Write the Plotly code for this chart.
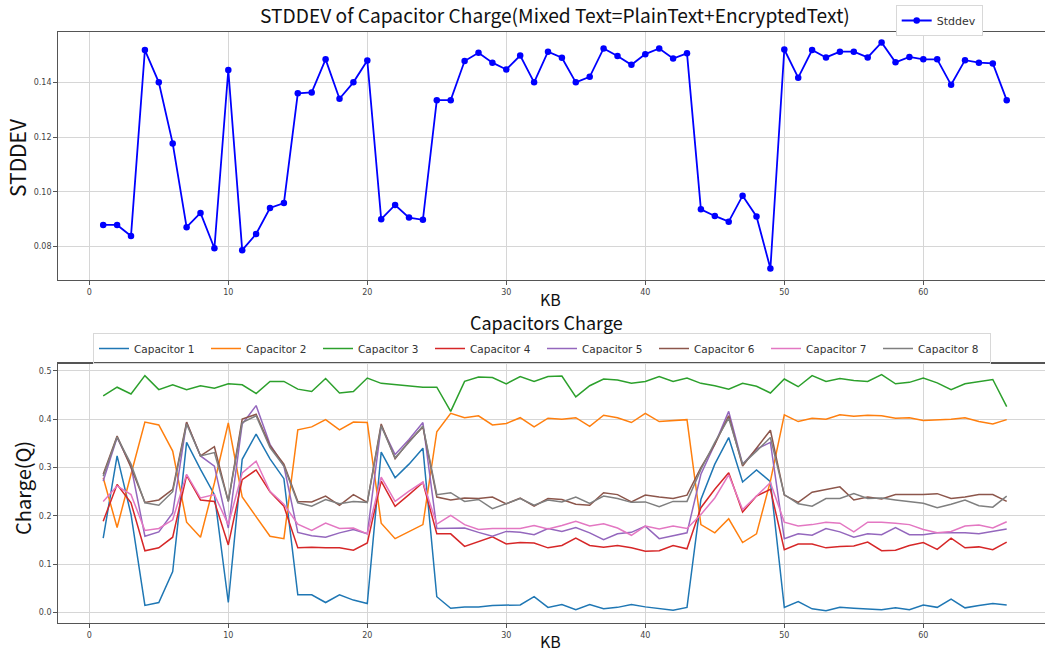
import plotly.graph_objects as go

kb = list(range(1, 67))

stddev = [0.0879, 0.0879, 0.0839, 0.1518, 0.1400, 0.1177, 0.0871, 0.0923, 0.0794, 0.1445,
          0.0787, 0.0846, 0.0941, 0.0959, 0.1360, 0.1363, 0.1484, 0.1340, 0.1400, 0.1480,
          0.0900, 0.0952, 0.0906, 0.0898, 0.1335, 0.1335, 0.1478, 0.1508, 0.1472, 0.1447,
          0.1498, 0.1400, 0.1512, 0.1490, 0.1400, 0.1420, 0.1524, 0.1496, 0.1464, 0.1503,
          0.1524, 0.1487, 0.1506, 0.0936, 0.0912, 0.0891, 0.0986, 0.0910, 0.0720, 0.1520,
          0.1417, 0.1518, 0.1491, 0.1512, 0.1512, 0.1491, 0.1546, 0.1473, 0.1493, 0.1484,
          0.1484, 0.1391, 0.1481, 0.1472, 0.1469, 0.1335]

cap1 = [0.154, 0.324, 0.203, 0.015, 0.021, 0.085, 0.352, 0.296, 0.244, 0.021,
        0.317, 0.369, 0.318, 0.277, 0.037, 0.037, 0.021, 0.037, 0.026, 0.019,
        0.332, 0.279, 0.307, 0.340, 0.033, 0.009, 0.012, 0.012, 0.015, 0.015,
        0.016, 0.033, 0.011, 0.017, 0.006, 0.017, 0.008, 0.011, 0.017, 0.012,
        0.009, 0.005, 0.011, 0.234, 0.307, 0.362, 0.270, 0.295, 0.271, 0.011,
        0.023, 0.008, 0.004, 0.011, 0.009, 0.008, 0.006, 0.010, 0.006, 0.016,
        0.011, 0.028, 0.010, 0.015, 0.019, 0.016]
cap2 = [0.279, 0.176, 0.286, 0.394, 0.388, 0.334, 0.187, 0.156, 0.268, 0.392,
        0.239, 0.198, 0.158, 0.153, 0.378, 0.384, 0.399, 0.378, 0.394, 0.393,
        0.185, 0.153, 0.168, 0.182, 0.374, 0.412, 0.403, 0.407, 0.388, 0.391,
        0.403, 0.384, 0.402, 0.400, 0.403, 0.385, 0.408, 0.403, 0.393, 0.412,
        0.395, 0.397, 0.399, 0.182, 0.165, 0.194, 0.145, 0.163, 0.272, 0.409,
        0.395, 0.402, 0.400, 0.409, 0.406, 0.408, 0.407, 0.402, 0.403, 0.397,
        0.398, 0.400, 0.403, 0.395, 0.390, 0.399]
cap3 = [0.448, 0.466, 0.452, 0.490, 0.461, 0.471, 0.461, 0.469, 0.464, 0.473,
        0.471, 0.453, 0.478, 0.478, 0.462, 0.457, 0.484, 0.454, 0.457, 0.485,
        0.474, 0.471, 0.468, 0.466, 0.466, 0.416, 0.478, 0.487, 0.486, 0.473,
        0.488, 0.478, 0.488, 0.489, 0.446, 0.469, 0.483, 0.481, 0.474, 0.478,
        0.488, 0.478, 0.485, 0.474, 0.469, 0.462, 0.474, 0.468, 0.454, 0.483,
        0.467, 0.490, 0.478, 0.484, 0.480, 0.478, 0.492, 0.473, 0.476, 0.485,
        0.475, 0.461, 0.473, 0.478, 0.482, 0.426]
cap4 = [0.189, 0.265, 0.227, 0.128, 0.134, 0.156, 0.284, 0.233, 0.230, 0.140,
        0.275, 0.295, 0.250, 0.220, 0.134, 0.135, 0.134, 0.134, 0.129, 0.144,
        0.272, 0.220, 0.244, 0.269, 0.163, 0.163, 0.137, 0.147, 0.157, 0.142,
        0.145, 0.144, 0.134, 0.139, 0.154, 0.139, 0.135, 0.139, 0.134, 0.127,
        0.128, 0.139, 0.132, 0.217, 0.255, 0.289, 0.208, 0.241, 0.255, 0.130,
        0.142, 0.142, 0.134, 0.137, 0.138, 0.146, 0.128, 0.129, 0.139, 0.145,
        0.131, 0.154, 0.134, 0.136, 0.130, 0.146]
cap5 = [0.272, 0.362, 0.303, 0.158, 0.167, 0.206, 0.393, 0.324, 0.303, 0.175,
        0.390, 0.428, 0.348, 0.303, 0.166, 0.159, 0.156, 0.165, 0.172, 0.163,
        0.386, 0.327, 0.358, 0.393, 0.174, 0.174, 0.175, 0.166, 0.158, 0.168,
        0.166, 0.161, 0.174, 0.168, 0.176, 0.165, 0.151, 0.163, 0.166, 0.179,
        0.153, 0.159, 0.165, 0.286, 0.348, 0.416, 0.307, 0.338, 0.352, 0.153,
        0.163, 0.160, 0.174, 0.167, 0.156, 0.163, 0.161, 0.176, 0.161, 0.161,
        0.165, 0.165, 0.165, 0.163, 0.168, 0.173]
cap6 = [0.286, 0.365, 0.300, 0.228, 0.233, 0.255, 0.394, 0.324, 0.343, 0.230,
        0.400, 0.410, 0.345, 0.307, 0.230, 0.229, 0.241, 0.222, 0.244, 0.228,
        0.390, 0.318, 0.354, 0.384, 0.239, 0.233, 0.237, 0.236, 0.239, 0.225,
        0.237, 0.220, 0.236, 0.234, 0.224, 0.222, 0.248, 0.244, 0.229, 0.243,
        0.239, 0.236, 0.243, 0.300, 0.348, 0.407, 0.303, 0.339, 0.377, 0.243,
        0.228, 0.249, 0.255, 0.260, 0.233, 0.239, 0.235, 0.244, 0.244, 0.244,
        0.246, 0.236, 0.239, 0.244, 0.244, 0.230]
cap7 = [0.230, 0.262, 0.244, 0.170, 0.174, 0.192, 0.286, 0.237, 0.244, 0.182,
        0.289, 0.313, 0.251, 0.224, 0.183, 0.170, 0.185, 0.174, 0.175, 0.163,
        0.280, 0.230, 0.251, 0.270, 0.183, 0.201, 0.182, 0.172, 0.174, 0.174,
        0.174, 0.180, 0.173, 0.180, 0.189, 0.179, 0.184, 0.175, 0.160, 0.179,
        0.173, 0.179, 0.174, 0.203, 0.237, 0.285, 0.213, 0.241, 0.269, 0.187,
        0.179, 0.182, 0.187, 0.185, 0.167, 0.187, 0.187, 0.185, 0.182, 0.172,
        0.165, 0.168, 0.179, 0.181, 0.175, 0.188]
cap8 = [0.282, 0.363, 0.307, 0.227, 0.222, 0.250, 0.390, 0.324, 0.331, 0.230,
        0.393, 0.407, 0.341, 0.303, 0.227, 0.220, 0.234, 0.225, 0.230, 0.228,
        0.386, 0.320, 0.352, 0.386, 0.244, 0.248, 0.230, 0.234, 0.215, 0.225,
        0.236, 0.222, 0.233, 0.229, 0.239, 0.226, 0.241, 0.236, 0.228, 0.229,
        0.219, 0.230, 0.230, 0.296, 0.352, 0.402, 0.307, 0.334, 0.362, 0.244,
        0.225, 0.220, 0.236, 0.236, 0.246, 0.236, 0.237, 0.233, 0.230, 0.226,
        0.217, 0.224, 0.233, 0.221, 0.218, 0.241]

cap_names = ["Capacitor 1", "Capacitor 2", "Capacitor 3", "Capacitor 4",
             "Capacitor 5", "Capacitor 6", "Capacitor 7", "Capacitor 8"]
cap_values = [cap1, cap2, cap3, cap4, cap5, cap6, cap7, cap8]
cap_colors = ["#1f77b4", "#ff7f0e", "#2ca02c", "#d62728",
              "#9467bd", "#8c564b", "#e377c2", "#7f7f7f"]

W, H = 1045, 654


def px(X):
    return X / W


def py(Y):
    return 1 - Y / H


fig = go.Figure()

fig.add_trace(go.Scatter(
    x=kb, y=stddev, mode="lines+markers", name="Stddev",
    line=dict(color="#0000ff", width=1.8),
    marker=dict(color="#0000ff", size=6.5),
    xaxis="x", yaxis="y", legend="legend"))

for name, vals, col in zip(cap_names, cap_values, cap_colors):
    fig.add_trace(go.Scatter(
        x=kb, y=vals, mode="lines", name=name,
        line=dict(color=col, width=1.5),
        xaxis="x2", yaxis="y2", legend="legend2"))

tickfont = dict(family="DejaVu Sans", size=8, color="#444444")
axis_common = dict(
    showgrid=True, gridcolor="#d6d6d6", gridwidth=1,
    showline=True, linecolor="#555555", linewidth=1.2,
    ticks="outside", ticklen=4, tickcolor="#555555", tickwidth=1,
    tickfont=tickfont, zeroline=False, automargin=False)

left = px(58.3)
right_val = (1045 - 89.3) / 13.9
fig.update_layout(
    width=W, height=H,
    margin=dict(l=0, r=0, t=0, b=0),
    paper_bgcolor="white", plot_bgcolor="white",
    hovermode=False,
    xaxis=dict(domain=[left, 1], range=[-2.23, right_val], tickvals=[0, 10, 20, 30, 40, 50, 60],
               anchor="y", mirror=True, **axis_common),
    yaxis=dict(domain=[py(280), py(31.7)], range=[0.0678, 0.1585],
               tickvals=[0.08, 0.10, 0.12, 0.14], tickformat=".2f",
               anchor="x", mirror=False, **axis_common),
    xaxis2=dict(domain=[left, 1], range=[-2.23, right_val], tickvals=[0, 10, 20, 30, 40, 50, 60],
                anchor="y2", mirror=True, **axis_common),
    yaxis2=dict(domain=[py(622.7), py(363.5)], range=[-0.0207, 0.515],
                tickvals=[0.0, 0.1, 0.2, 0.3, 0.4, 0.5], tickformat=".1f",
                anchor="x2", mirror=False, **axis_common),
    legend=dict(x=px(895.7), y=py(5), xanchor="left", yanchor="top",
                bgcolor="white", bordercolor="#d8d8d8", borderwidth=1,
                font=dict(family="DejaVu Sans", size=11, color="#333333"),
                tracegroupgap=0, itemwidth=30),
    legend2=dict(x=px(93), y=py(333), xanchor="left", yanchor="top",
                 orientation="h", entrywidth=67, entrywidthmode="pixels",
                 bgcolor="rgba(255,255,255,0)", bordercolor="#d8d8d8", borderwidth=1,
                 font=dict(family="DejaVu Sans", size=10.5, color="#333333")),
    showlegend=True,
)

title_font = "Noto Sans CJK KR"
annos = [
    dict(text="STDDEV of Capacitor Charge(Mixed Text=PlainText+EncryptedText)",
         x=px(555), y=py(15), size=19.2),
    dict(text="KB", x=px(550), y=py(299), size=16),
    dict(text="Capacitors Charge", x=px(546), y=py(322), size=18),
    dict(text="KB", x=px(550), y=py(641), size=16),
]
for a in annos:
    fig.add_annotation(text=a["text"], x=a["x"], y=a["y"], xref="paper", yref="paper",
                       xanchor="center", yanchor="middle", showarrow=False,
                       font=dict(family=title_font, size=a["size"], color="#111111"))
fig.add_annotation(text="STDDEV", x=px(17), y=py(158), xref="paper", yref="paper",
                   xanchor="center", yanchor="middle", showarrow=False, textangle=-90,
                   font=dict(family=title_font, size=21, color="#111111"))
fig.add_annotation(text="Charge(Q)", x=px(22), y=py(488), xref="paper", yref="paper",
                   xanchor="center", yanchor="middle", showarrow=False, textangle=-90,
                   font=dict(family=title_font, size=20, color="#111111"))

fig.write_html("out.html",
               config={"displayModeBar": False, "staticPlot": True},
               post_script="document.body.style.margin='0px';document.body.style.overflow='hidden';")
